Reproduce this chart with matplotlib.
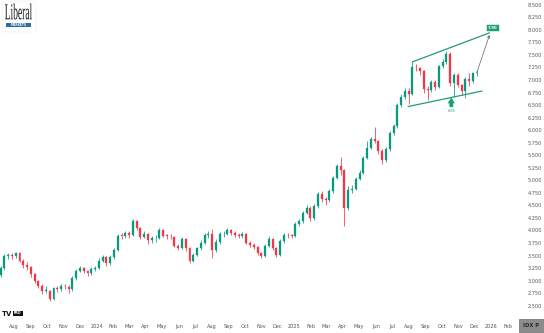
import numpy as np
import pandas as pd
import matplotlib
matplotlib.use("Agg")
import matplotlib.pyplot as plt
import matplotlib.dates as mdates
from matplotlib.ticker import FuncFormatter, FixedLocator
from matplotlib.textpath import TextPath
from matplotlib.patches import PathPatch, Rectangle, FancyBboxPatch
from matplotlib.font_manager import FontProperties
from matplotlib.transforms import Affine2D

# ---------------- data (weekly candles) ----------------
start_date = "2023-07-07"
first_open = 3.12
closes = [3.25, 3.50, 3.50, 3.49, 3.55, 3.40, 3.31, 3.27, 3.13, 2.99,
          2.90, 2.80, 2.80, 2.64, 2.85, 2.83, 2.89, 2.88, 2.83, 3.05,
          3.20, 3.25, 3.20, 3.15, 3.23, 3.25, 3.40, 3.47, 3.35, 3.47,
          3.62, 3.89, 3.88, 3.95, 3.90, 4.19, 4.04, 3.87, 3.92, 3.80,
          3.84, 3.85, 4.00, 3.89, 3.88, 3.87, 3.70, 3.65, 3.82, 3.66,
          3.40, 3.51, 3.65, 3.76, 3.90, 3.92, 3.62, 3.77, 3.92, 3.93,
          4.00, 3.95, 3.91, 3.88, 3.92, 3.76, 3.72, 3.68, 3.55, 3.49,
          3.70, 3.82, 3.66, 3.52, 3.78, 3.90, 3.89, 3.88, 4.13, 4.18,
          4.35, 4.45, 4.24, 4.48, 4.72, 4.62, 4.60, 4.78, 5.05, 5.28,
          5.20, 4.45, 4.80, 4.83, 5.03, 5.15, 5.44, 5.65, 5.82, 5.78,
          5.58, 5.40, 5.62, 5.94, 6.08, 6.50, 6.66, 6.78, 6.72, 7.25,
          7.24, 7.18, 6.82, 6.80, 6.96, 6.85, 7.27, 7.36, 7.52, 6.93,
          7.10, 6.90, 6.78, 7.02, 6.98, 7.13, 7.14]
highs = [3.30, 3.54, 3.56, 3.55, 3.58, 3.57, 3.44, 3.37, 3.30, 3.16,
         3.02, 2.93, 2.89, 2.82, 2.88, 2.89, 2.93, 2.93, 2.91, 3.09,
         3.23, 3.29, 3.27, 3.22, 3.27, 3.30, 3.45, 3.51, 3.49, 3.52,
         3.66, 3.93, 3.94, 3.99, 3.98, 4.23, 4.21, 4.06, 3.99, 3.95,
         3.89, 3.90, 4.05, 4.02, 3.93, 3.92, 3.89, 3.73, 3.86, 3.84,
         3.68, 3.55, 3.68, 3.80, 3.95, 3.98, 4.03, 3.82, 3.96, 3.98,
         4.04, 4.03, 3.98, 3.94, 3.96, 3.94, 3.79, 3.76, 3.70, 3.58,
         3.73, 3.89, 3.84, 3.68, 3.82, 3.94, 3.94, 3.93, 4.17, 4.23,
         4.39, 4.50, 4.48, 4.52, 4.76, 4.79, 4.67, 4.83, 5.09, 5.32,
         5.47, 5.22, 4.88, 4.90, 5.07, 5.20, 5.48, 5.78, 5.86, 6.07,
         5.80, 5.62, 5.66, 5.98, 6.12, 6.55, 6.72, 6.83, 6.84, 7.38,
         7.32, 7.25, 7.20, 6.88, 7.00, 6.99, 7.30, 7.42, 7.58, 7.55,
         7.14, 7.14, 6.92, 7.06, 7.14, 7.16, 7.19]
lows = [3.08, 3.22, 3.44, 3.44, 3.45, 3.37, 3.26, 3.22, 3.08, 2.95,
        2.86, 2.74, 2.76, 2.59, 2.62, 2.78, 2.80, 2.83, 2.76, 2.80,
        3.02, 3.17, 3.16, 3.09, 3.12, 3.19, 3.23, 3.37, 3.29, 3.32,
        3.43, 3.60, 3.82, 3.85, 3.85, 3.88, 4.00, 3.83, 3.84, 3.73,
        3.76, 3.77, 3.83, 3.86, 3.83, 3.82, 3.67, 3.62, 3.63, 3.60,
        3.36, 3.38, 3.49, 3.62, 3.73, 3.84, 3.45, 3.58, 3.74, 3.86,
        3.90, 3.91, 3.87, 3.84, 3.85, 3.73, 3.68, 3.63, 3.51, 3.45,
        3.47, 3.68, 3.62, 3.47, 3.50, 3.76, 3.85, 3.84, 3.86, 4.09,
        4.15, 4.32, 4.19, 4.21, 4.45, 4.57, 4.50, 4.57, 4.75, 5.02,
        5.10, 4.08, 4.40, 4.74, 4.80, 5.00, 5.12, 5.42, 5.62, 5.74,
        5.52, 5.32, 5.36, 5.58, 5.90, 6.05, 6.46, 6.62, 6.52, 6.70,
        7.18, 7.10, 6.75, 6.60, 6.76, 6.80, 6.83, 7.24, 7.32, 6.88,
        6.66, 6.85, 6.70, 6.65, 6.88, 6.94, 7.08]

# annotation values
upper_line = (["2025-08-08", "2025-12-29"], [7.36, 7.94])
lower_line = (["2025-07-31", "2025-12-15"], [6.47, 6.78])
target_date, target_price, target_label = "2025-12-29", 7.90, "7.90"
support_date, support_price, support_label = "2025-10-19", 6.65, "6.65"

y_ticks = [2.50, 2.75, 3.00, 3.25, 3.50, 3.75, 4.00, 4.25, 4.50, 4.75, 5.00,
           5.25, 5.50, 5.75, 6.00, 6.25, 6.50, 6.75, 7.00, 7.25, 7.50, 7.75,
           8.00, 8.25, 8.50]

# ---------------- figure ----------------
W, H = 544, 333
fig = plt.figure(figsize=(W / 100, H / 100), dpi=100, facecolor="white")
ax = fig.add_axes([0, 1 - 318 / H, 519 / W, 318 / H])
ax.set_facecolor("white")

dates = pd.date_range(start_date, periods=len(closes), freq="7D")
x = mdates.date2num(dates)
c = np.array(closes)
o = np.concatenate([[first_open], c[:-1]])
h = np.array(highs)
l = np.array(lows)
up_col, dn_col = "#089981", "#f23645"
cols = np.where(c >= o, up_col, dn_col)

ax.vlines(x, l, h, colors=cols, linewidth=0.55, zorder=2)
body = np.where(np.abs(c - o) < 0.012, 0.012, c - o)
ax.bar(x, body, bottom=o, width=3.6, color=cols, edgecolor=cols,
       linewidth=0.2, zorder=3)

# axis limits
ref = mdates.date2num(pd.Timestamp("2024-01-01"))
ax.set_xlim(ref - 96.7 / 0.5397, ref + (519 - 96.7) / 0.5397)
ax.set_ylim(2.255, 8.594)

for s in ax.spines.values():
    s.set_visible(False)

ax.yaxis.tick_right()
ax.yaxis.set_major_locator(FixedLocator(y_ticks))
ax.yaxis.set_major_formatter(FuncFormatter(lambda v, p: f"{v:.3f}"))
ax.tick_params(axis="y", length=0, pad=6.0, labelsize=3.6, colors="#555555")

ax.xaxis.set_major_locator(mdates.MonthLocator())
def fmt_date(v, p):
    d = mdates.num2date(v)
    return str(d.year) if d.month == 1 else d.strftime("%b")
ax.xaxis.set_major_formatter(FuncFormatter(fmt_date))
ax.tick_params(axis="x", length=0, pad=4.2, labelsize=3.6, colors="#555555")

# trend channel lines
green = "#1e9e78"
ax.plot(pd.to_datetime(upper_line[0]), upper_line[1], color=green, lw=0.9,
        zorder=4, solid_capstyle="round")
ax.plot(pd.to_datetime(lower_line[0]), lower_line[1], color=green, lw=0.9,
        zorder=4, solid_capstyle="round")

# projection arrow from last candle to target
ax.annotate("", xy=(mdates.date2num(pd.Timestamp(target_date)), target_price),
            xytext=(x[-1], c[-1]),
            arrowprops=dict(arrowstyle="-|>", color="#7a7a7a", lw=0.6,
                            mutation_scale=4, shrinkA=0, shrinkB=0), zorder=5)
ax.text(mdates.date2num(pd.Timestamp(target_date)) + 6, target_price + 0.14,
        target_label, fontsize=2.8, color="white", ha="center", va="center",
        fontweight="bold", zorder=6,
        bbox=dict(boxstyle="square,pad=0.25", fc=green, ec=green, lw=0.3))

# support arrow
sx = mdates.date2num(pd.Timestamp(support_date))
ax.annotate("", xy=(sx, support_price), xytext=(sx, support_price - 0.19),
            arrowprops=dict(arrowstyle="simple,head_length=0.7,head_width=0.9,tail_width=0.45",
                            color=green, lw=0, mutation_scale=6,
                            shrinkA=0, shrinkB=0), zorder=6)
ax.text(sx, support_price - 0.26, support_label, fontsize=2.6, color=green,
        ha="center", va="center", zorder=6)

# ---------------- overlay decorations in pixel space ----------------
ov = fig.add_axes([0, 0, 1, 1], zorder=10)
ov.set_xlim(0, W)
ov.set_ylim(H, 0)
ov.axis("off")
ov.patch.set_alpha(0)

# Liberal logo
ov.add_patch(FancyBboxPatch((2, 1), 34, 31, boxstyle="round,pad=0,rounding_size=2",
                            fc="white", ec="#eeeeee", lw=0.4))
tp = TextPath((0, 0), "Liberal", size=1, prop=FontProperties(family="Liberation Serif"))
bb = tp.get_extents()
sxl = 27 / bb.width
syl = 16 / bb.height
tr = Affine2D().translate(-bb.x0, -bb.y0).scale(sxl, -syl).translate(5, 19.5)
ov.add_patch(PathPatch(tr.transform_path(tp), fc="#1a1a1a", ec="none"))
ov.add_patch(Rectangle((6, 22.5), 25, 4.5, fc="#2b6ea6", ec="none"))
ov.text(18.5, 24.9, "MARKETS", fontsize=2.2, color="white", ha="center",
        va="center", fontweight="bold")

# TradingView mark
ov.text(2, 313.5, "TV", fontsize=5, fontweight="heavy", color="#111111",
        ha="left", va="center", family="DejaVu Sans")
ov.add_patch(Rectangle((13, 311), 10, 5, fc="#111111", ec="none"))
ov.text(18, 313.5, "PRO", fontsize=2.3, color="white", ha="center",
        va="center", fontweight="bold")

# bottom-right corner box
ov.add_patch(Rectangle((519, 318.5), 24.5, 13.5, fc="#8c8c8c", ec="#6e6e6e", lw=0.5))
ov.text(531.5, 325.3, "IDX P", fontsize=3.8, color="#2a2a2a", ha="center",
        va="center", fontweight="bold")

fig.savefig("out.png", dpi=100, facecolor="white")
